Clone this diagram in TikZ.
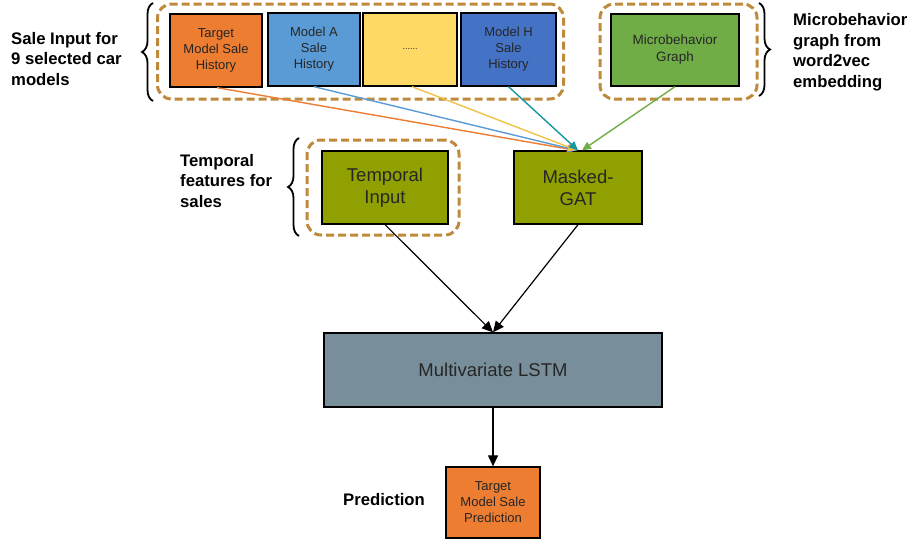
\documentclass[tikz,border=0pt]{standalone}
\usepackage{fontspec}
\setmainfont{Liberation Sans}
\usetikzlibrary{arrows.meta,decorations.pathreplacing}

\definecolor{grpdash}{RGB}{191,138,60}
\definecolor{salorange}{RGB}{237,125,49}
\definecolor{sallblue}{RGB}{91,155,213}
\definecolor{salyellow}{RGB}{255,217,102}
\definecolor{salblue}{RGB}{68,114,196}
\definecolor{salgreen}{RGB}{112,173,71}
\definecolor{olive}{RGB}{143,160,0}
\definecolor{slate}{RGB}{120,143,155}
\definecolor{lineyellow}{RGB}{240,195,70}
\definecolor{lineteal}{RGB}{20,150,160}

\begin{document}
\begin{tikzpicture}[x=1pt,y=-1pt,
  box/.style={draw=black, line width=1.3pt, inner sep=0pt, align=center,
    text=black!85, font=\fontsize{13}{16}\selectfont},
  bigbox/.style={box, font=\fontsize{18.5}{22}\selectfont},
  group/.style={draw=grpdash, line width=3pt, dash pattern=on 8pt off 4pt,
    rounded corners=14pt, inner sep=0pt},
  lbl/.style={font=\bfseries\fontsize{16.7}{20.5}\selectfont, align=left,
    anchor=west, inner sep=0pt},
  brc/.style={decorate, decoration={brace, amplitude=11pt}, line width=1.8pt},
  feed/.style={line width=1.4pt, -{Triangle[length=9pt,width=8pt]}},
  flow/.style={line width=1.2pt, -{Triangle[length=11pt,width=10pt]}},
]
\useasboundingbox (0,0) rectangle (912,541);

% dashed groupings
\node[group, minimum width=406pt, minimum height=95pt] (salegrp) at (360.5,51.5) {};
\node[group, minimum width=157pt, minimum height=95pt] (microgrp) at (678.5,51.5) {};
\node[group, minimum width=152pt, minimum height=95pt] (tempgrp) at (383,187.5) {};

% sale history inputs
\node[box, fill=salorange, minimum width=92pt, minimum height=73pt] (target) at (216,50.5) {Target\\Model Sale\\History};
\node[box, fill=sallblue, minimum width=92pt, minimum height=73pt] (modela) at (314,49.5) {Model A\\Sale\\History};
\node[box, fill=salyellow, minimum width=94pt, minimum height=73pt] (dots) at (410,49.5) {\fontsize{9}{10}\selectfont ......};
\node[box, fill=salblue, minimum width=95pt, minimum height=73pt] (modelh) at (508.5,49.5) {Model H\\Sale\\History};
\node[box, fill=salgreen, minimum width=128pt, minimum height=72pt,
  font=\fontsize{13.5}{17}\selectfont] (micro) at (675,50) {Microbehavior\\Graph};

% processing blocks
\node[bigbox, fill=olive, minimum width=126pt, minimum height=73pt] (temporal) at (385,187.5) {Temporal\\Input};
\node[bigbox, fill=olive, minimum width=128pt, minimum height=73pt] (masked) at (578,187.5) {Masked-\\GAT};
\node[bigbox, fill=slate, minimum width=338pt, minimum height=74pt] (lstm) at (493,370) {Multivariate LSTM};
\node[box, fill=salorange, minimum width=94pt, minimum height=71pt] (pred) at (493,502.5) {Target\\Model Sale\\Prediction};

% side labels
\node[lbl] (salelbl) at (11,59) {Sale Input for\\9 selected car\\models};
\node[lbl] (microlbl) at (793,52) {Microbehavior\\graph from\\word2vec\\embedding};
\node[lbl] (templbl) at (180,181) {Temporal\\features for\\sales};
\node[lbl] (predlbl) at (343,500) {Prediction};

% braces
\draw[brc] (153,101) -- (153,3);
\draw[brc] (759,3) -- (759,96);
\draw[brc] (299,236) -- (299,138);

% feeds into the masked GAT
\draw[feed, salorange] ([xshift=1pt]target.south) -- ([xshift=-2pt]masked.north);
\draw[feed, sallblue] (modela.south) -- ([xshift=-1pt]masked.north);
\draw[feed, lineyellow] ([xshift=2pt]dots.south) -- ([xshift=-1pt]masked.north);
\draw[feed, lineteal] (modelh.south) -- (masked.north);
\draw[feed, salgreen] (micro.south) -- ([xshift=4pt]masked.north);

% main flow
\draw[flow] (temporal.south) -- (lstm.north);
\draw[flow] (masked.south) -- (lstm.north);
\draw[flow] (lstm.south) -- (pred.north);
\end{tikzpicture}
\end{document}
